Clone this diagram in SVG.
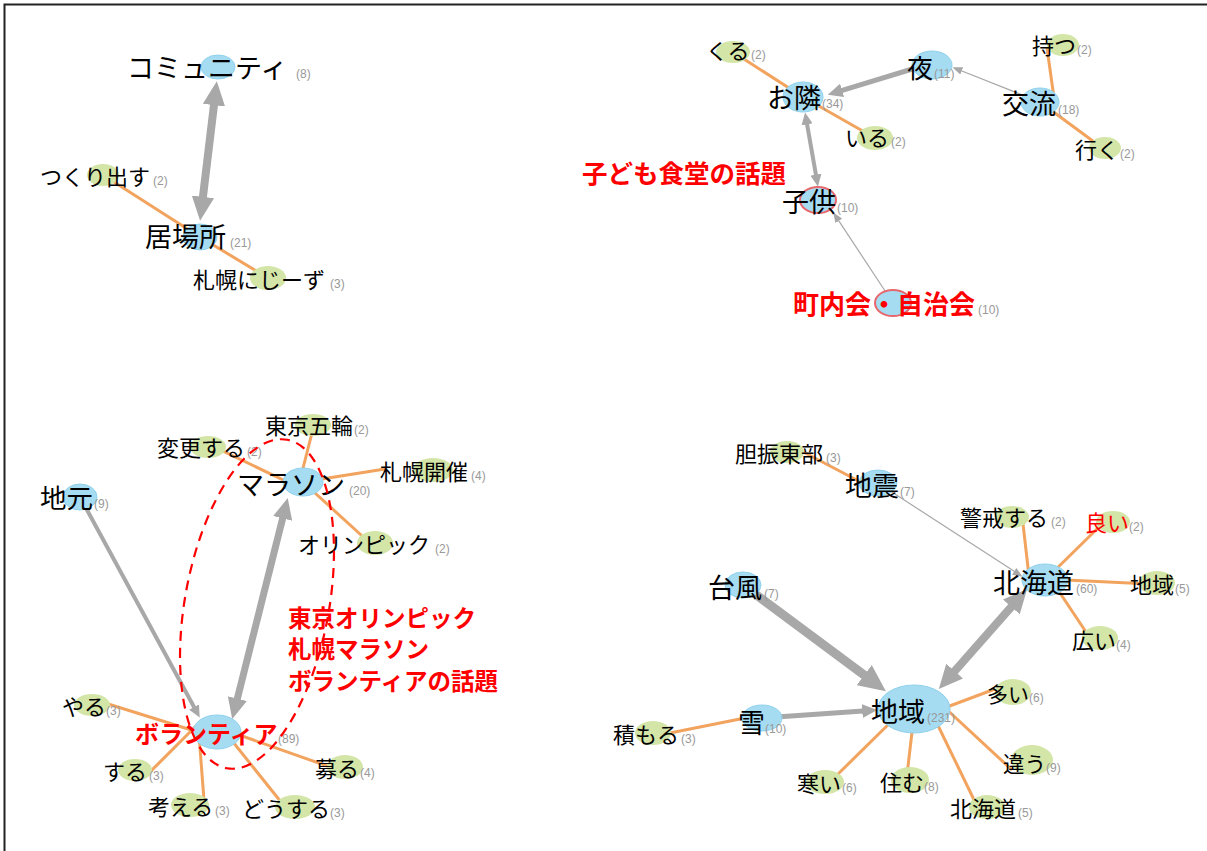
<svg xmlns="http://www.w3.org/2000/svg" width="1207" height="851" viewBox="0 0 1207 851">
<style>
.b{fill:#a6dcf2;stroke:#8fd1ec;stroke-width:1}
.g{fill:#d3e5a7}
.hl{stroke:#e8676d;stroke-width:2}
.oe{stroke:#f2a35e;stroke-width:3;fill:none}
.ge{stroke:#a8a8a8;fill:none}
.t{font-family:"Noto Sans CJK JP","Noto Sans CJK SC",sans-serif;fill:#000}
.s{font-size:22px}
.L{font-size:27px}
.c{font-family:"Liberation Sans",Arial,sans-serif;font-size:12px;fill:#999}
.r{fill:#ff0000;font-weight:bold}
.an{font-family:"Noto Sans CJK JP","Noto Sans CJK SC",sans-serif;fill:#ff0000;font-weight:bold}
</style>
<defs>
<marker id="ah" viewBox="0 0 10 10" markerUnits="strokeWidth" markerWidth="3" markerHeight="2.8" refX="0.5" refY="5" orient="auto-start-reverse" preserveAspectRatio="none"><path d="M0,0L10,5L0,10z" fill="#a8a8a8"/></marker>
<marker id="at" viewBox="0 0 10 10" markerUnits="userSpaceOnUse" markerWidth="10" markerHeight="8" refX="0.5" refY="5" orient="auto-start-reverse" preserveAspectRatio="none"><path d="M0,0L10,5L0,10z" fill="#a8a8a8"/></marker>
</defs>
<rect width="1207" height="851" fill="#fff"/>
<path d="M4.5,851V4.5H1207" fill="none" stroke="#222" stroke-width="2"/>

<g id="connectors">
<!-- Q1 -->
<path class="oe" d="M103,175L200,237"/>
<path class="oe" d="M200,237L268,278"/>
<path class="ge" stroke-width="8" d="M202.8,198L214.1,104" marker-start="url(#ah)" marker-end="url(#ah)"/>
<!-- Q2 -->
<path class="oe" d="M733,52L803,97"/>
<path class="oe" d="M803,97L875,138"/>
<path class="oe" d="M1047,48L1055,105"/>
<path class="oe" d="M1040,102L1105,150"/>
<path class="ge" stroke-width="5" d="M932,63L841.4,90.6" marker-end="url(#ah)"/>
<path class="ge" stroke-width="1.2" d="M1040,102L961.3,70.7" marker-end="url(#at)"/>
<path class="ge" stroke-width="4" d="M807,123.8L816,175.2" marker-start="url(#ah)" marker-end="url(#ah)"/>
<path class="ge" stroke-width="1.2" d="M893,303L838.5,220.4" marker-end="url(#at)"/>
<!-- Q3 -->
<path class="oe" d="M300,480L314,425"/>
<path class="oe" d="M208,444L300,488"/>
<path class="oe" d="M303,482L385,469"/>
<path class="oe" d="M303,482L372,545"/>
<path class="oe" d="M105,703L217,738"/>
<path class="oe" d="M148,774L200,722"/>
<path class="oe" d="M199,735L204,800"/>
<path class="oe" d="M225,732L285,807"/>
<path class="oe" d="M225,730L330,767"/>
<path class="ge" stroke-width="4" d="M80,497L194.3,707.5" marker-end="url(#ah)"/>
<path class="ge" stroke-width="7" d="M282.9,517.4L237.1,699.6" marker-start="url(#ah)" marker-end="url(#ah)"/>
<!-- Q4 -->
<path class="oe" d="M790,445L870,487"/>
<path class="oe" d="M655,736L755,716"/>
<path class="oe" d="M1022,515L1030,585"/>
<path class="oe" d="M1100,526L1045,580"/>
<path class="oe" d="M1045,579L1150,584"/>
<path class="oe" d="M1050,578L1090,638"/>
<path class="oe" d="M915,719L995,689"/>
<path class="oe" d="M930,694L1012,770"/>
<path class="oe" d="M914,715L907,775"/>
<path class="oe" d="M929,707L978,808"/>
<path class="oe" d="M900,713L835,777"/>
<path class="ge" stroke-width="9" d="M743,585L865.3,675.9" marker-end="url(#ah)"/>
<path class="ge" stroke-width="5" d="M762,718L863,711" marker-end="url(#ah)"/>
<path class="ge" stroke-width="8" d="M953.9,672L1012.1,606" marker-start="url(#ah)" marker-end="url(#ah)"/>
<path class="ge" stroke-width="1.2" d="M878,483L1014.6,571.6" marker-end="url(#at)"/>
</g>

<!-- Q1 nodes -->
<g id="n-community"><ellipse class="b" cx="218" cy="67" rx="17" ry="12"/><text class="t L" x="127" y="78">コミュニティ</text><text class="c" x="296" y="78">(8)</text></g>
<g id="n-ibasho"><ellipse class="b" cx="200" cy="237" rx="17" ry="13"/><text class="t L" x="145" y="247">居場所</text><text class="c" x="230" y="247">(21)</text></g>
<g id="n-tsukuridasu"><ellipse class="g" cx="103" cy="175" rx="16" ry="11"/><text class="t s" x="40" y="185">つくり出す</text><text class="c" x="153" y="185">(2)</text></g>
<g id="n-sapporonijiizu"><ellipse class="g" cx="268" cy="278" rx="18" ry="12"/><text class="t s" x="193" y="288">札幌にじーず</text><text class="c" x="330" y="288">(3)</text></g>

<!-- Q2 nodes -->
<g id="n-kuru"><ellipse class="g" cx="733" cy="52" rx="17" ry="11"/><text class="t s" x="706" y="59">くる</text><text class="c" x="751" y="59">(2)</text></g>
<g id="n-otonari"><ellipse class="b" cx="803" cy="97" rx="20" ry="15"/><text class="t L" x="767" y="108">お隣</text><text class="c" x="822" y="108">(34)</text></g>
<g id="n-iru"><ellipse class="g" cx="875" cy="138" rx="18" ry="12"/><text class="t s" x="845" y="146">いる</text><text class="c" x="891" y="146">(2)</text></g>
<g id="n-yoru"><ellipse class="b" cx="932" cy="65" rx="20" ry="14"/><text class="t" font-size="26" x="907" y="78">夜</text><text class="c" x="934" y="78">(11)</text></g>
<g id="n-koryu"><ellipse class="b" cx="1040" cy="102" rx="19" ry="14"/><text class="t L" x="1002" y="114">交流</text><text class="c" x="1058" y="114">(18)</text></g>
<g id="n-motsu"><ellipse class="g" cx="1063" cy="45" rx="16" ry="11"/><text class="t s" x="1032" y="54">持つ</text><text class="c" x="1077" y="54">(2)</text></g>
<g id="n-iku"><ellipse class="g" cx="1105" cy="148" rx="16" ry="11"/><text class="t s" x="1075" y="158">行く</text><text class="c" x="1120" y="158">(2)</text></g>
<g id="n-kodomo"><ellipse class="b hl" cx="818" cy="200" rx="18" ry="13"/><text class="t L" x="782" y="212">子供</text><text class="c" x="837" y="212">(10)</text></g>
<g id="n-chonaikai"><ellipse class="b hl" cx="893" cy="303" rx="18" ry="13"/><text class="t r" font-size="26" x="793" y="314">町内会・自治会</text><text class="c" x="978" y="314">(10)</text></g>

<!-- Q3 nodes -->
<g id="n-jimoto"><ellipse class="b" cx="80" cy="497" rx="17" ry="13"/><text class="t" font-size="26.5" x="40" y="508">地元</text><text class="c" x="94" y="508">(9)</text></g>
<g id="n-tokyogorin"><ellipse class="g" cx="313" cy="425" rx="18" ry="11"/><text class="t s" x="265" y="434">東京五輪</text><text class="c" x="354" y="434">(2)</text></g>
<g id="n-henkosuru"><ellipse class="g" cx="208" cy="447" rx="18" ry="11"/><text class="t s" x="157" y="456">変更する</text><text class="c" x="247" y="456">(2)</text></g>
<g id="n-marathon"><ellipse class="b" cx="303" cy="482" rx="20" ry="14"/><text class="t L" x="237" y="495">マラソン</text><text class="c" x="349" y="495">(20)</text></g>
<g id="n-sapporokaisai"><ellipse class="g" cx="433" cy="470" rx="20" ry="12"/><text class="t s" x="380" y="480">札幌開催</text><text class="c" x="471" y="480">(4)</text></g>
<g id="n-olympic"><ellipse class="g" cx="375" cy="543" rx="18" ry="12"/><text class="t s" x="298" y="553">オリンピック</text><text class="c" x="435" y="553">(2)</text></g>
<g id="n-volunteer"><ellipse class="b" cx="217" cy="732" rx="24" ry="17"/><text class="t r" font-size="24" x="135" y="743">ボランティア</text><text class="c" x="278" y="743">(89)</text></g>
<g id="n-yaru"><ellipse class="g" cx="92" cy="705" rx="18" ry="11"/><text class="t s" x="62" y="715">やる</text><text class="c" x="106" y="715">(3)</text></g>
<g id="n-suru"><ellipse class="g" cx="135" cy="770" rx="17" ry="11"/><text class="t s" x="103" y="780">する</text><text class="c" x="149" y="780">(3)</text></g>
<g id="n-kangaeru"><ellipse class="g" cx="190" cy="805" rx="19" ry="12"/><text class="t s" x="148" y="815">考える</text><text class="c" x="215" y="815">(3)</text></g>
<g id="n-dousuru"><ellipse class="g" cx="295" cy="807" rx="20" ry="12"/><text class="t s" x="242" y="817">どうする</text><text class="c" x="330" y="817">(3)</text></g>
<g id="n-tsunoru"><ellipse class="g" cx="345" cy="767" rx="18" ry="12"/><text class="t s" x="315" y="777">募る</text><text class="c" x="360" y="777">(4)</text></g>

<!-- Q4 nodes -->
<g id="n-iburitobu"><ellipse class="g" cx="787" cy="452" rx="17" ry="11"/><text class="t s" x="735" y="462">胆振東部</text><text class="c" x="826" y="462">(3)</text></g>
<g id="n-jishin"><ellipse class="b" cx="878" cy="483" rx="19" ry="13"/><text class="t L" x="845" y="496">地震</text><text class="c" x="900" y="496">(7)</text></g>
<g id="n-taifu"><ellipse class="b" cx="743" cy="585" rx="18" ry="13"/><text class="t L" x="708" y="598">台風</text><text class="c" x="764" y="598">(7)</text></g>
<g id="n-yuki"><ellipse class="b" cx="762" cy="718" rx="20" ry="13"/><text class="t L" x="738" y="733">雪</text><text class="c" x="765" y="733">(10)</text></g>
<g id="n-tsumoru"><ellipse class="g" cx="653" cy="733" rx="18" ry="12"/><text class="t s" x="613" y="743">積もる</text><text class="c" x="681" y="743">(3)</text></g>
<g id="n-samui"><ellipse class="g" cx="825" cy="782" rx="19" ry="12"/><text class="t s" x="797" y="792">寒い</text><text class="c" x="842" y="792">(6)</text></g>
<g id="n-chiiki"><ellipse class="b" cx="914" cy="709" rx="36" ry="24"/><text class="t L" x="871" y="722">地域</text><text class="c" x="927" y="722">(231)</text></g>
<g id="n-hokkaido"><ellipse class="b" cx="1045" cy="580" rx="23" ry="16"/><text class="t L" x="993" y="593">北海道</text><text class="c" x="1076" y="593">(60)</text></g>
<g id="n-keikaisuru"><ellipse class="g" cx="1012" cy="517" rx="17" ry="11"/><text class="t s" x="960" y="526">警戒する</text><text class="c" x="1051" y="526">(2)</text></g>
<g id="n-yoi"><ellipse class="g" cx="1113" cy="522" rx="17" ry="11"/><text class="t s" fill="#ff0000" style="fill:#ff0000" x="1085" y="531">良い</text><text class="c" x="1129" y="531">(2)</text></g>
<g id="n-chiiki5"><ellipse class="g" cx="1157" cy="583" rx="18" ry="12"/><text class="t s" x="1130" y="593">地域</text><text class="c" x="1175" y="593">(5)</text></g>
<g id="n-hiroi"><ellipse class="g" cx="1100" cy="638" rx="18" ry="12"/><text class="t s" x="1072" y="649">広い</text><text class="c" x="1116" y="649">(4)</text></g>
<g id="n-ooi"><ellipse class="g" cx="1013" cy="692" rx="18" ry="13"/><text class="t" font-size="21" x="987" y="702">多い</text><text class="c" x="1029" y="702">(6)</text></g>
<g id="n-chigau"><ellipse class="g" cx="1032" cy="760" rx="21" ry="15"/><text class="t" font-size="21.5" x="1003" y="772">違う</text><text class="c" x="1046" y="772">(9)</text></g>
<g id="n-sumu"><ellipse class="g" cx="910" cy="780" rx="19" ry="13"/><text class="t s" x="880" y="791">住む</text><text class="c" x="924" y="791">(8)</text></g>
<g id="n-hokkaido5"><ellipse class="g" cx="987" cy="807" rx="18" ry="12"/><text class="t s" x="950" y="817">北海道</text><text class="c" x="1018" y="817">(5)</text></g>

<!-- annotations -->
<g id="annotations">
<text class="an" font-size="25.5" x="582" y="183">子ども食堂の話題</text>
<ellipse cx="257" cy="604" rx="72" ry="167" transform="rotate(10.4 257 604)" fill="none" stroke="#ff0000" stroke-width="2.2" stroke-dasharray="10 7"/>
<text class="an" font-size="23.5" x="288" y="627">東京オリンピック</text>
<text class="an" font-size="23.5" x="288" y="658">札幌マラソン</text>
<text class="an" font-size="23.5" x="288" y="690">ボランティアの話題</text>
</g>
</svg>
